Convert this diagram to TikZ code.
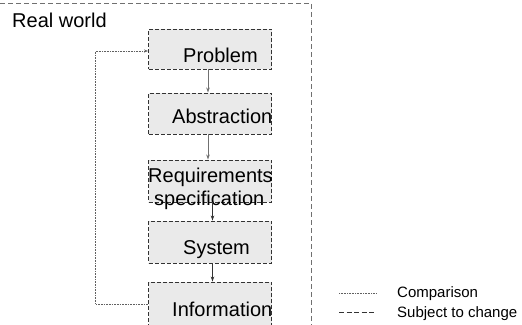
\documentclass[tikz,border=0pt]{standalone}
\usepackage{fontspec}
\setmainfont{Liberation Sans}
\usetikzlibrary{arrows.meta}
\definecolor{boxfill}{HTML}{EAEAEA}
\definecolor{boxline}{HTML}{333333}
\definecolor{frameline}{HTML}{707070}
\definecolor{flowgray}{HTML}{707070}
\definecolor{dotline}{HTML}{606060}
\begin{document}
\begin{tikzpicture}[x=1pt,y=-1pt,
  stagebox/.style={draw=boxline,fill=boxfill,line width=0.9pt,dash pattern=on 4pt off 2pt,
    minimum width=123pt,inner sep=0pt},
  lbl/.style={inner sep=0pt,font=\fontsize{20}{24}\selectfont},
  legtxt/.style={inner sep=0pt,font=\fontsize{15}{18}\selectfont,anchor=base west},
  flow/.style={line width=0.8pt,-{Stealth[length=5pt,width=3.5pt]}},
  dotstyle/.style={dotline,line width=0.8pt,dash pattern=on 0.8pt off 0.8pt},
  cmp/.style={dotstyle,-{Stealth[length=4pt,width=3pt]}}]
\useasboundingbox (0,0) rectangle (522,324);
% frame of the real world
\draw[frameline,line width=0.9pt,dash pattern=on 5pt off 3pt] (0,3) -- (311,3) -- (311,326);
\node[lbl,anchor=base west] (rw) at (12,27.5) {Real world};
% stages
\node[stagebox,minimum height=40pt] (p) at (210,49) {};
\node[stagebox,minimum height=41pt] (a) at (210,113.5) {};
\node[stagebox,minimum height=42pt] (r) at (210,181) {};
\node[stagebox,minimum height=42pt] (s) at (210,242) {};
\node[stagebox,minimum height=48pt] (i) at (210,306) {};
\node[lbl,anchor=base west] (pt) at (183,62) {Problem};
\node[lbl,anchor=base west] (at) at (172,123) {Abstraction};
\node[lbl,anchor=base west] (rt) at (148,182) {Requirements};
\node[lbl,anchor=base west] (rt2) at (154,205.5) {specification};
\node[lbl,anchor=base west] (st) at (183,254) {System};
\node[lbl,anchor=base west] (it) at (172,316) {Information};
% flow between stages
\draw[flow,flowgray] ([xshift=-2pt]p.south) -- ([xshift=-2pt]a.north);
\draw[flow,flowgray] ([xshift=-2pt]a.south) -- ([xshift=-2pt]r.north);
\draw[flow,boxline] ([xshift=2.5pt]r.south) -- ([xshift=2.5pt]s.north);
\draw[flow,boxline] ([xshift=2.5pt]s.south) -- ([xshift=2.5pt]i.north);
% comparison loop
\coordinate (loopx) at (95.5,200);
\draw[cmp] ([yshift=2pt]i.west) -| (loopx) |- ([yshift=-2pt]p.west);
% legend
\coordinate (l1a) at (339,293);
\coordinate (l1b) at (376,293);
\coordinate (l2a) at (339,312);
\coordinate (l2b) at (376,312);
\draw[dotstyle] (l1a) -- (l1b);
\draw[boxline,line width=0.8pt,dash pattern=on 5pt off 2.5pt] (l2a) -- (l2b);
\node[legtxt] (lc) at (397,297) {Comparison};
\node[legtxt] (ls) at (397,317) {Subject to change};
\end{tikzpicture}
\end{document}
